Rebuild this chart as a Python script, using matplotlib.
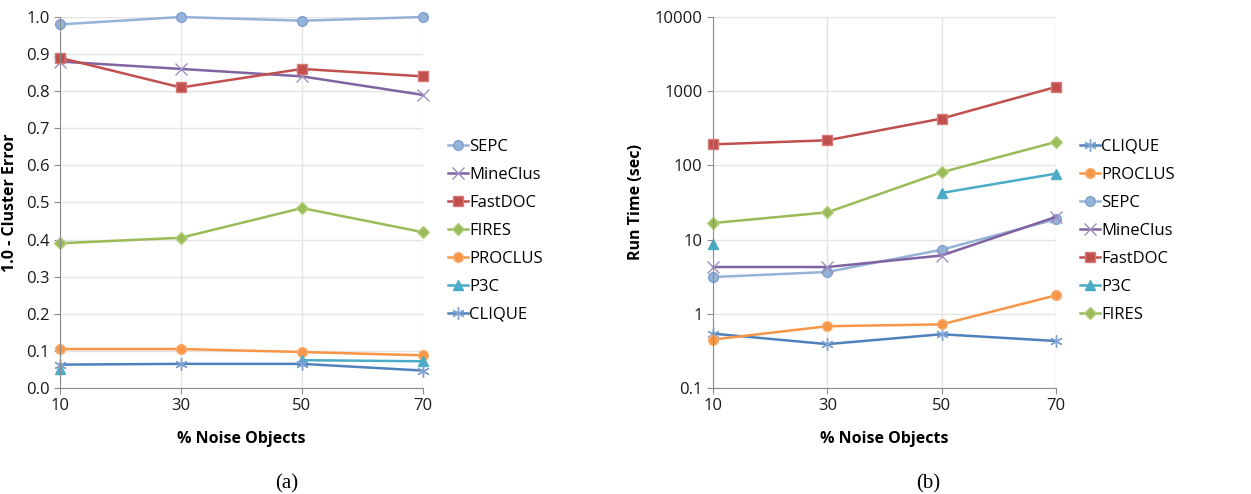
import matplotlib.pyplot as plt
import numpy as np

noise = [10, 30, 50, 70]

# (a) 1.0 - cluster error
err_sepc = [0.98, 1.0, 0.99, 1.0]
err_mineclus = [0.88, 0.86, 0.84, 0.79]
err_fastdoc = [0.89, 0.81, 0.86, 0.84]
err_fires = [0.39, 0.405, 0.485, 0.42]
err_proclus = [0.105, 0.105, 0.097, 0.088]
err_p3c = [0.05, np.nan, 0.075, 0.072]
err_clique = [0.063, 0.065, 0.065, 0.047]

# (b) run time in seconds
rt_clique = [0.54, 0.39, 0.53, 0.43]
rt_proclus = [0.45, 0.68, 0.72, 1.77]
rt_sepc = [3.13, 3.66, 7.3, 18.8]
rt_mineclus = [4.27, 4.27, 6.1, 20.2]
rt_fastdoc = [192, 218, 427, 1140]
rt_p3c = [8.8, np.nan, 42.5, 77.4]
rt_fires = [16.7, 23.3, 80.7, 207]

styles = {
    'SEPC': dict(color='#95B3D7', marker='o', ms=7, mec='#7F9FCF'),
    'MineClus': dict(color='#8064A2', marker='x', ms=8, mew=1.0, mec='#A090C0'),
    'FastDOC': dict(color='#C0504D', marker='s', ms=7, mec='#D87A77'),
    'FIRES': dict(color='#9BBB59', marker='D', ms=6, mec='#B3CF7F'),
    'PROCLUS': dict(color='#F79646', marker='o', ms=7, mec='#F9AE70'),
    'P3C': dict(color='#4BACC6', marker='^', ms=7, mec='#4BACC6'),
    'CLIQUE': dict(color='#4F81BD', marker=(6, 2, 0), ms=9, mew=1.0, mec='#7FA2D3'),
}

plt.rcParams['font.family'] = ['Open Sans', 'DejaVu Sans']
grey = '#8C8C8C'


def style_axes(ax):
    ax.grid(True, color='#E4E4E4', linewidth=1.0)
    ax.set_axisbelow(True)
    for side in ['top', 'right']:
        ax.spines[side].set_visible(False)
    for side in ['left', 'bottom']:
        ax.spines[side].set_color(grey)
    ax.tick_params(colors=grey, labelcolor='#1A1A1A', labelsize=12, length=4)
    ax.set_xticks(noise)
    ax.set_xlim(10, 70)
    ax.set_xlabel('% Noise Objects', fontsize=11.5, fontweight='bold', labelpad=12)


def add_legend(ax):
    ax.legend(loc='upper left', bbox_to_anchor=(1.05, 0.69), frameon=False, fontsize=12,
              handlelength=1.2, handletextpad=0.1, labelspacing=0.72, borderaxespad=0)


fig = plt.figure(figsize=(12.51, 4.94), dpi=100)

ax1 = fig.add_axes([0.048, 0.2146, 0.290, 0.751])
for name, vals in [('SEPC', err_sepc), ('MineClus', err_mineclus), ('FastDOC', err_fastdoc),
                   ('FIRES', err_fires), ('PROCLUS', err_proclus), ('P3C', err_p3c),
                   ('CLIQUE', err_clique)]:
    ax1.plot(noise, vals, lw=1.8, label=name, clip_on=False, **styles[name])
style_axes(ax1)
ax1.set_ylim(0, 1.0)
ax1.set_yticks(np.arange(0, 1.01, 0.1))
ax1.set_yticklabels([f'{v:.1f}' for v in np.arange(0, 1.01, 0.1)])
ax1.set_ylabel('1.0 - Cluster Error', fontsize=11.5, fontweight='bold', labelpad=6)
add_legend(ax1)

ax2 = fig.add_axes([0.570, 0.2146, 0.274, 0.751])
for name, vals in [('CLIQUE', rt_clique), ('PROCLUS', rt_proclus), ('SEPC', rt_sepc),
                   ('MineClus', rt_mineclus), ('FastDOC', rt_fastdoc), ('P3C', rt_p3c),
                   ('FIRES', rt_fires)]:
    ax2.plot(noise, vals, lw=1.8, label=name, clip_on=False, **styles[name])
style_axes(ax2)
ax2.set_yscale('log')
ax2.set_ylim(0.1, 10000)
ticks = [0.1, 1, 10, 100, 1000, 10000]
ax2.set_yticks(ticks)
ax2.set_yticklabels(['0.1', '1', '10', '100', '1000', '10000'])
ax2.minorticks_off()
ax2.set_ylabel('Run Time (sec)', fontsize=11.5, fontweight='bold', labelpad=8)
add_legend(ax2)

fig.text(0.229, 0.012, '(a)', family='Liberation Serif', fontsize=15, ha='center')
fig.text(0.742, 0.012, '(b)', family='Liberation Serif', fontsize=15, ha='center')

fig.savefig('out.png', dpi=100)
